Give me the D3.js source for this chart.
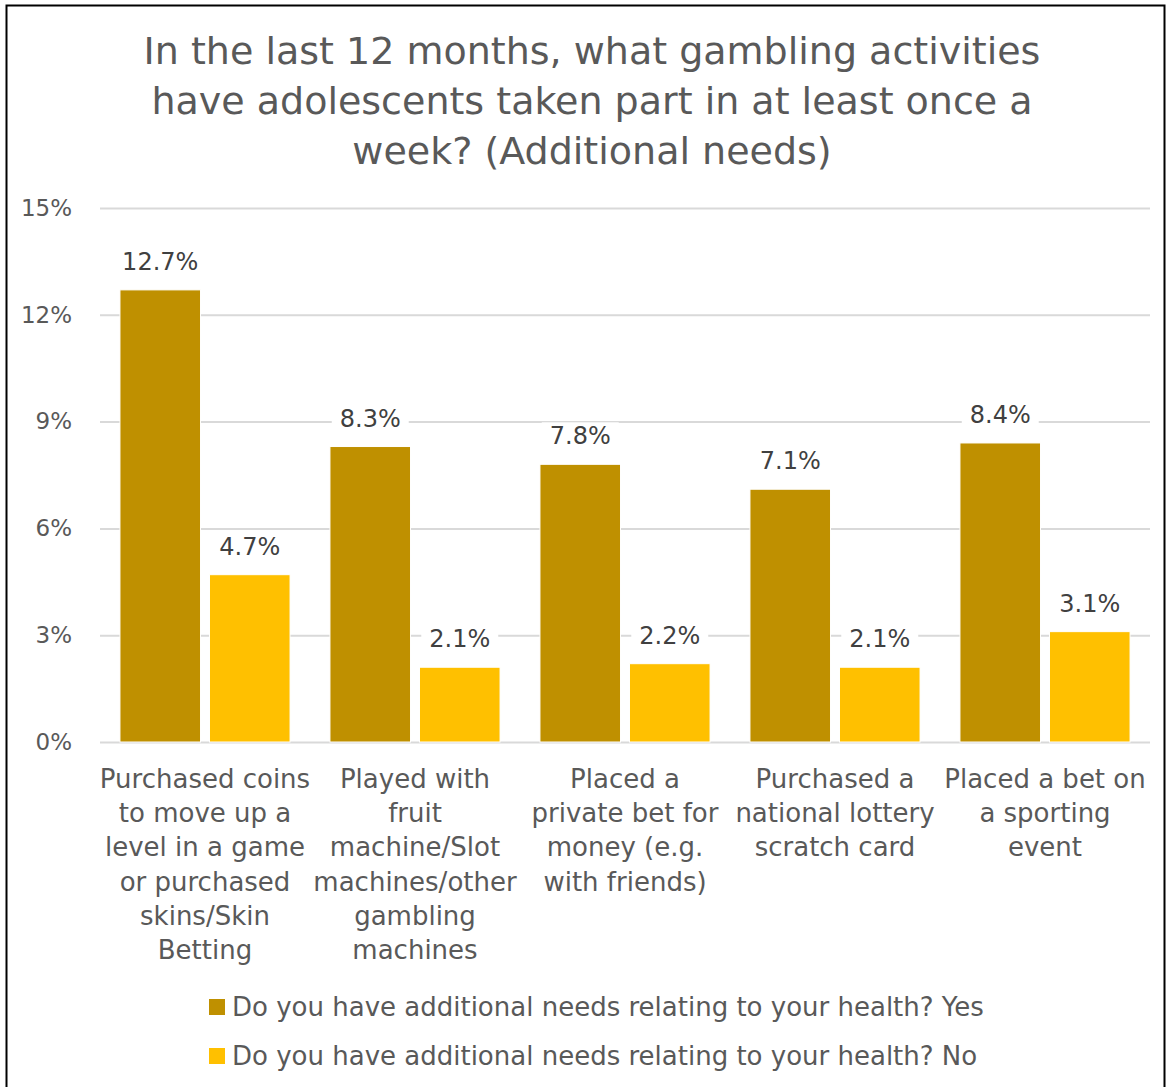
<!DOCTYPE html>
<html>
<head>
<meta charset="utf-8">
<script src="https://cdn.jsdelivr.net/npm/d3@7"></script>
<style>
  html, body { margin: 0; padding: 0; background: #fff; }
  svg text { font-family: "DejaVu Sans", sans-serif; }
</style>
</head>
<body>
<svg id="chart" width="1166" height="1087"></svg>
<script>
// Weekly gambling activities, split by additional health needs
const categories = [
  "Purchased coins\nto move up a\nlevel in a game\nor purchased\nskins/Skin\nBetting",
  "Played with\nfruit\nmachine/Slot\nmachines/other\ngambling\nmachines",
  "Placed a\nprivate bet for\nmoney (e.g.\nwith friends)",
  "Purchased a\nnational lottery\nscratch card",
  "Placed a bet on\na sporting\nevent"
];
const seriesNames = [
  "Do you have additional needs relating to your health? Yes",
  "Do you have additional needs relating to your health? No"
];
const valuesYes = [12.7, 8.3, 7.8, 7.1, 8.4];
const valuesNo = [4.7, 2.1, 2.2, 2.1, 3.1];
const yTicks = [0, 3, 6, 9, 12, 15];
const titleLines = [
  "In the last 12 months, what gambling activities",
  "have adolescents taken part in at least once a",
  "week? (Additional needs)"
];
const colors = ["#BF9000", "#FFC000"];

const svg = d3.select("#chart");
const W = 1166, H = 1087;

// frame
svg.append("rect").attr("x", 6.5).attr("y", 5.5).attr("width", W - 8).attr("height", H)
  .attr("fill", "#fff").attr("stroke", "#000").attr("stroke-width", 2);

const plot = { left: 100, right: 1150, top: 208, bottom: 742 };

const x0 = d3.scaleBand().domain(d3.range(categories.length))
  .range([plot.left, plot.right]).paddingInner(0.19).paddingOuter(0.095);
const x1 = d3.scaleBand().domain([0, 1]).range([0, x0.bandwidth()]).paddingInner(0.1);
const y = d3.scaleLinear().domain([0, 15]).range([plot.bottom, plot.top]);

// title
svg.append("g").selectAll("text").data(titleLines).join("text")
  .attr("x", 592).attr("y", (d, i) => 64 + i * 50)
  .attr("text-anchor", "middle").attr("fill", "#595959")
  .style("font-size", "38px").text(d => d);

// gridlines and y axis
const yAxis = d3.axisLeft(y).tickValues(yTicks).tickFormat(d => d + "%")
  .tickSize(-(plot.right - plot.left)).tickPadding(28);
const gy = svg.append("g").attr("transform", `translate(${plot.left},0)`).call(yAxis);
gy.select(".domain").remove();
gy.selectAll(".tick line").attr("stroke", "#D9D9D9").attr("stroke-width", 2);
gy.selectAll(".tick text").attr("fill", "#595959").style("font-size", "23px");

// bars
const rows = categories.map((c, i) => ({ i, vals: [valuesYes[i], valuesNo[i]] }));
const groups = svg.append("g").selectAll("g").data(rows).join("g")
  .attr("transform", d => `translate(${x0(d.i)},0)`);

groups.selectAll("rect").data(d => d.vals.map((v, s) => ({ v, s }))).join("rect")
  .attr("x", d => x1(d.s)).attr("width", x1.bandwidth())
  .attr("y", d => y(d.v)).attr("height", d => y(0) - y(d.v))
  .attr("fill", d => colors[d.s]).attr("stroke", "#fff").attr("stroke-width", 1);

// value labels on white boxes
const lbl = groups.selectAll("g.lbl").data(d => d.vals.map((v, s) => ({ v, s }))).join("g")
  .attr("class", "lbl")
  .attr("transform", d => `translate(${x1(d.s) + x1.bandwidth() / 2},${y(d.v) - 20})`);
lbl.append("text").attr("text-anchor", "middle").attr("fill", "#404040")
  .style("font-size", "24px").text(d => d.v.toFixed(1) + "%");
lbl.each(function () {
  const g = d3.select(this);
  const b = g.select("text").node().getBBox();
  g.insert("rect", "text").attr("x", b.x - 8).attr("y", b.y).attr("width", b.width + 16)
    .attr("height", b.height).attr("fill", "#fff");
});

// category labels
const cat = svg.append("g").selectAll("text").data(categories).join("text")
  .attr("text-anchor", "middle").attr("fill", "#595959").style("font-size", "26px")
  .attr("transform", (d, i) => `translate(${x0(i) + x0.bandwidth() / 2},788)`);
cat.selectAll("tspan").data(d => d.split("\n")).join("tspan")
  .attr("x", 0).attr("dy", (d, i) => i === 0 ? 0 : 34.2).text(d => d);

// legend
const leg = svg.append("g").selectAll("g").data(seriesNames).join("g")
  .attr("transform", (d, i) => `translate(209,${1007 + i * 49})`);
leg.append("rect").attr("x", 0).attr("y", -8).attr("width", 16).attr("height", 16)
  .attr("fill", (d, i) => colors[i]);
leg.append("text").attr("x", 23).attr("y", 9).attr("fill", "#595959")
  .style("font-size", "26px").text(d => d);
</script>
</body>
</html>
